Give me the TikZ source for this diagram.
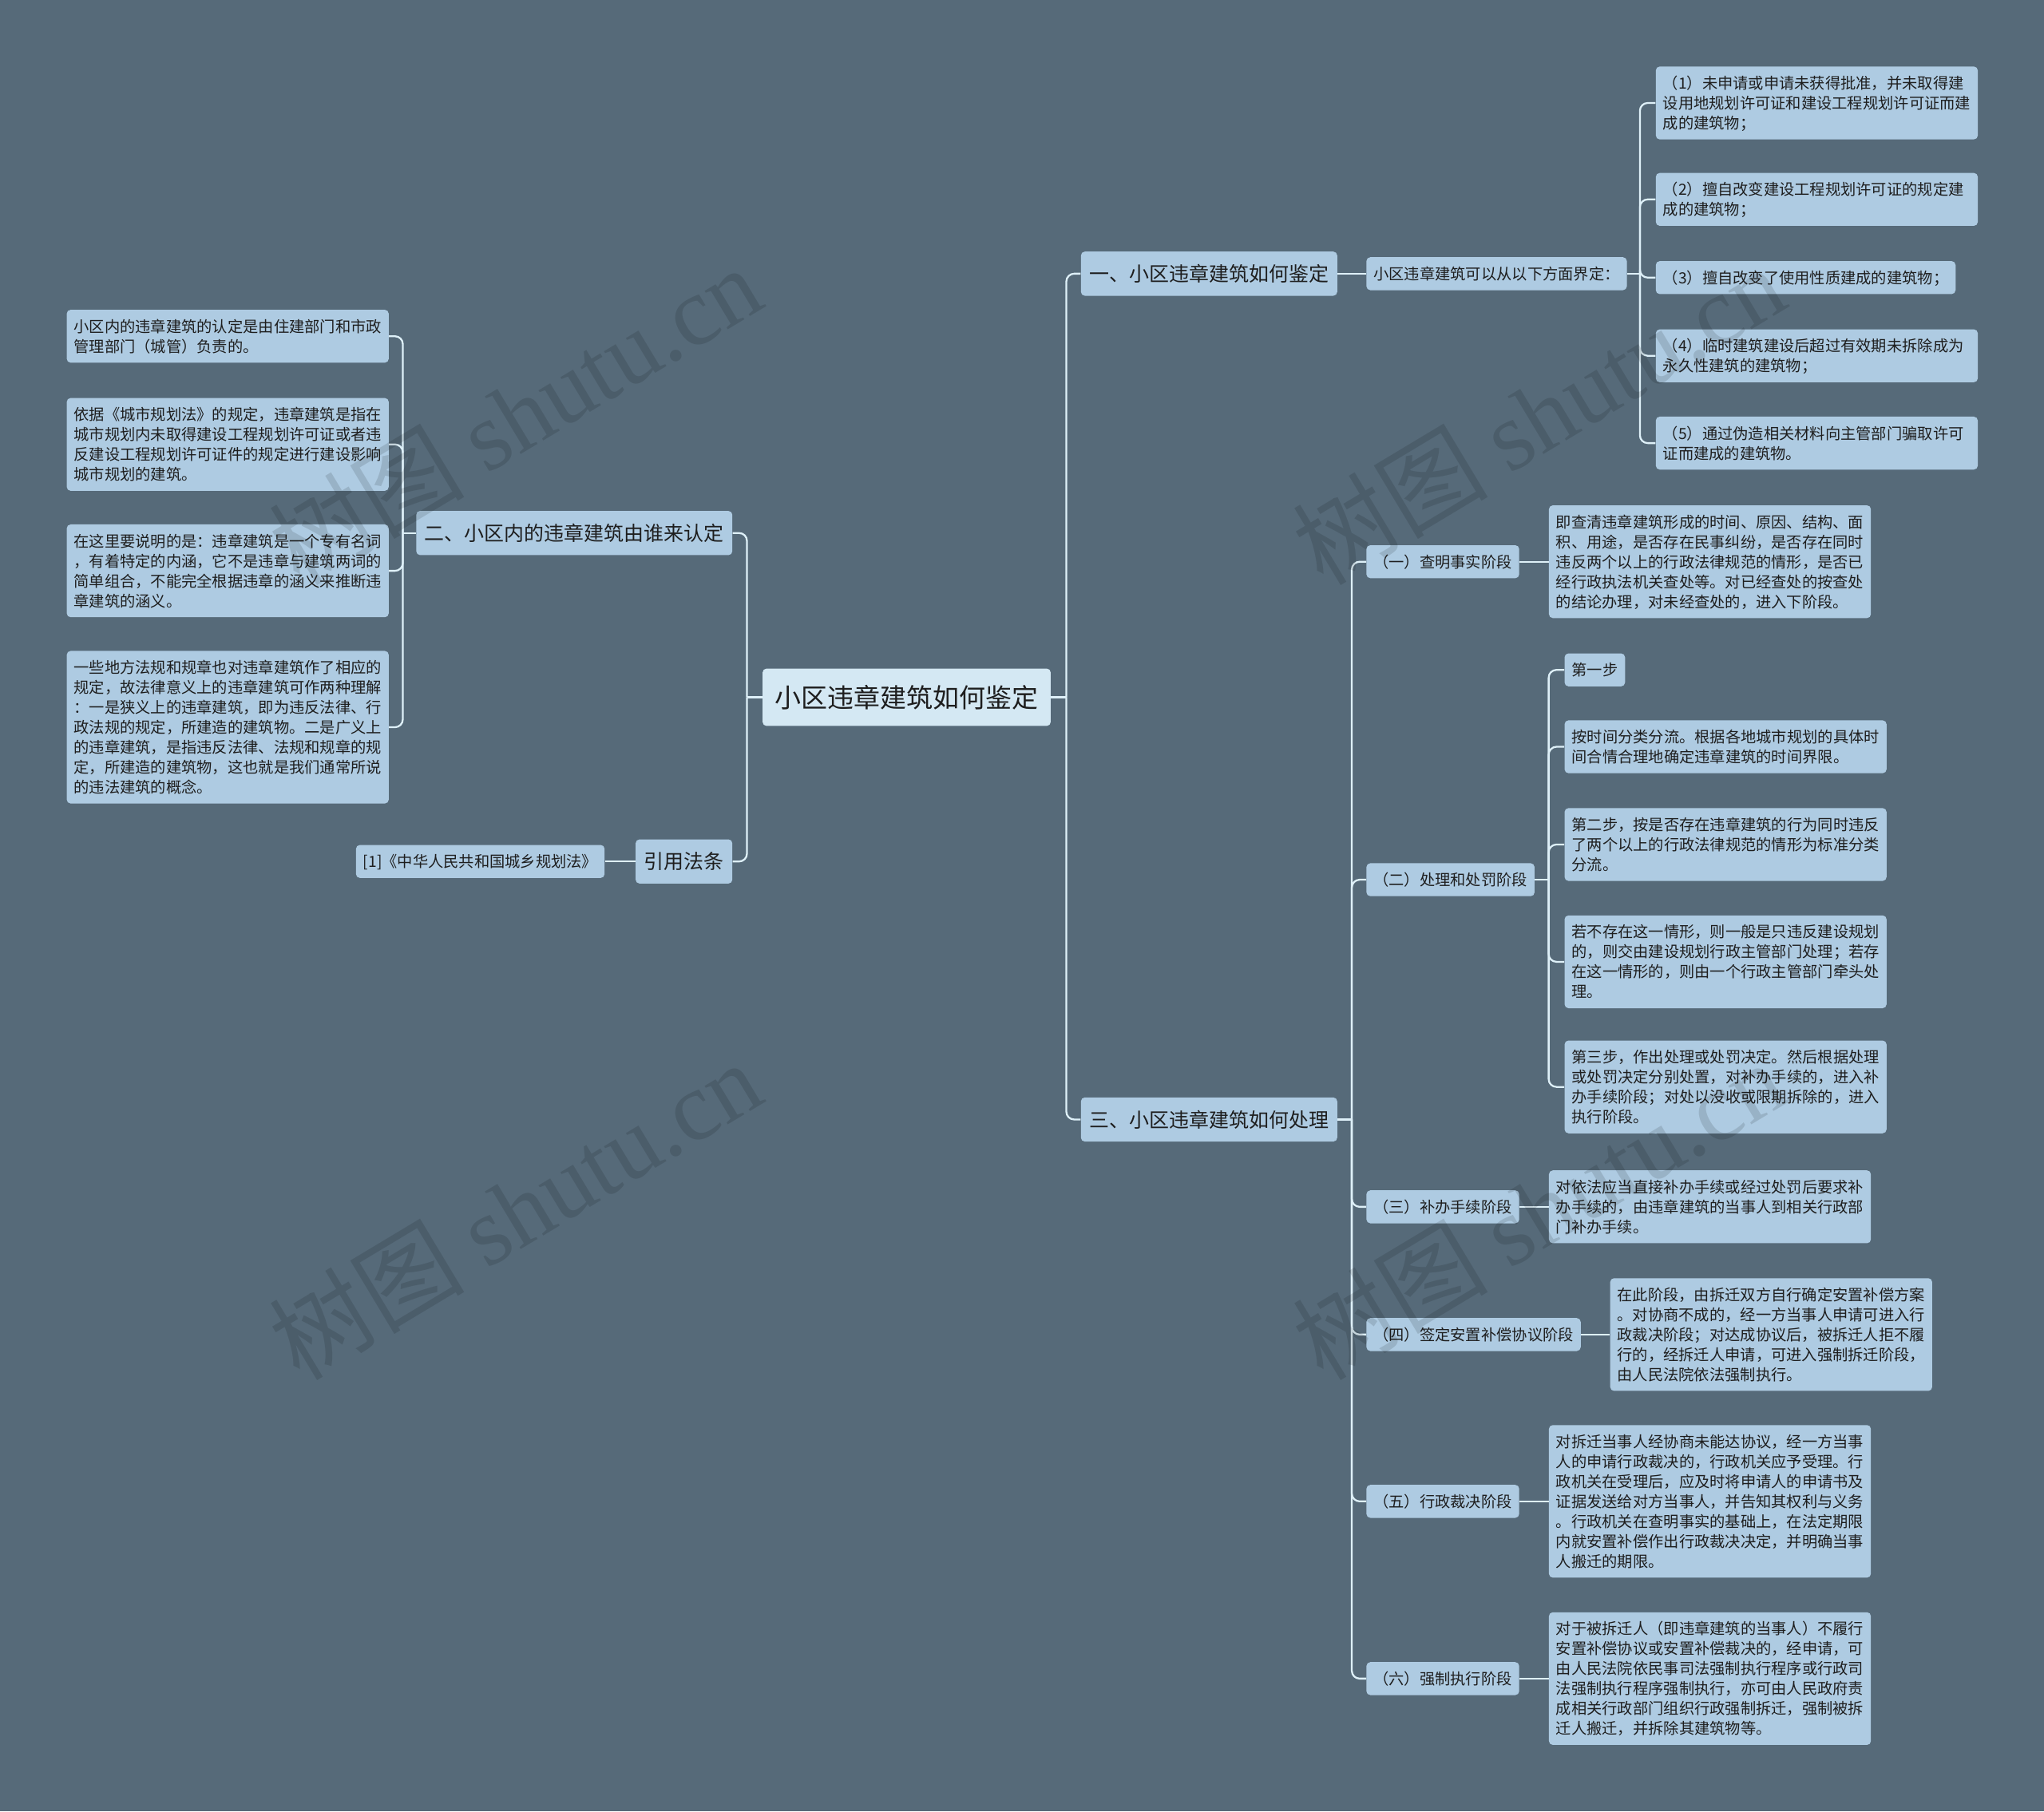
\documentclass[tikz,border=0pt]{standalone}
\usepackage{fontspec}
\setmainfont{Noto Sans CJK SC}
\newfontfamily\wmlatin{Liberation Serif}
\setlength{\parindent}{0pt}
\newcommand\mystrut{\rule[-0.2\baselineskip]{0pt}{\baselineskip}}
\definecolor{bgc}{RGB}{86,106,121}
\definecolor{nodec}{RGB}{174,203,226}
\definecolor{rootc}{RGB}{212,232,243}
\definecolor{linec}{RGB}{222,240,248}
\definecolor{txtc}{RGB}{30,30,30}
\begin{document}
\begin{tikzpicture}[x=1pt,y=-1pt,
  base/.style={fill=nodec, rounded corners=3pt, text=txtc, inner xsep=5.5pt, inner ysep=5pt, align=left, execute at begin node=\mystrut, execute at end node=\mystrut},
  small/.style={base, font=\fontsize{11.8}{15.3}\selectfont},
  leaf/.style={small, text width=236pt},
  lvone/.style={base, inner xsep=6.5pt, inner ysep=7pt, font=\fontsize{15.3}{19.9}\selectfont},
  rootnode/.style={base, fill=rootc, inner xsep=9.5pt, inner ysep=9pt, font=\fontsize{20.2}{26}\selectfont},
  conn/.style={draw=linec, line width=1.4pt, rounded corners=6pt},
  wm/.style={text=black, text opacity=0.12, rotate=31, inner sep=0pt, font=\fontsize{75}{80}\selectfont}
]
\fill[bgc] (0,0) rectangle (1568,1390);
\useasboundingbox (0,0) rectangle (1568,1390);

% root and level one
\node[rootnode] (root) at (695.5,535) {小区违章建筑如何鉴定};
\node[lvone, anchor=west] (n1) at (829,210) {一、小区违章建筑如何鉴定};
\node[lvone, anchor=west] (n3) at (829,859) {三、小区违章建筑如何处理};
\node[lvone, anchor=east] (n2) at (562,409) {二、小区内的违章建筑由谁来认定};
\node[lvone, anchor=east] (n4) at (562,661) {引用法条};

% branch one
\node[small, anchor=west] (d0) at (1048,210) {小区违章建筑可以从以下方面界定：};
\node[leaf, anchor=west] (a1) at (1270,79) {（1）未申请或申请未获得批准，并未取得建\\设用地规划许可证和建设工程规划许可证而建\\成的建筑物；};
\node[leaf, anchor=west] (a2) at (1270,153) {（2）擅自改变建设工程规划许可证的规定建\\成的建筑物；};
\node[small, anchor=west] (a3) at (1270,213) {（3）擅自改变了使用性质建成的建筑物；};
\node[leaf, anchor=west] (a4) at (1270,273) {（4）临时建筑建设后超过有效期未拆除成为\\永久性建筑的建筑物；};
\node[leaf, anchor=west] (a5) at (1270,340) {（5）通过伪造相关材料向主管部门骗取许可\\证而建成的建筑物。};

% branch two
\node[leaf, anchor=west] (b1) at (51,258) {小区内的违章建筑的认定是由住建部门和市政\\管理部门（城管）负责的。};
\node[leaf, anchor=west] (b2) at (51,341) {依据《城市规划法》的规定，违章建筑是指在\\城市规划内未取得建设工程规划许可证或者违\\反建设工程规划许可证件的规定进行建设影响\\城市规划的建筑。};
\node[leaf, anchor=west] (b3) at (51,438) {在这里要说明的是：违章建筑是一个专有名词\\，有着特定的内涵，它不是违章与建筑两词的\\简单组合，不能完全根据违章的涵义来推断违\\章建筑的涵义。};
\node[leaf, anchor=west] (b4) at (51,558) {一些地方法规和规章也对违章建筑作了相应的\\规定，故法律意义上的违章建筑可作两种理解\\：一是狭义上的违章建筑，即为违反法律、行\\政法规的规定，所建造的建筑物。二是广义上\\的违章建筑，是指违反法律、法规和规章的规\\定，所建造的建筑物，这也就是我们通常所说\\的违法建筑的概念。};

% references
\node[small, anchor=east] (r1) at (464,661) {[1]《中华人民共和国城乡规划法》};

% branch three
\node[small, anchor=west] (s1) at (1048,431) {（一）查明事实阶段};
\node[small, anchor=west] (s2) at (1048,675) {（二）处理和处罚阶段};
\node[small, anchor=west] (s3) at (1048,926) {（三）补办手续阶段};
\node[small, anchor=west] (s4) at (1048,1024) {（四）签定安置补偿协议阶段};
\node[small, anchor=west] (s5) at (1048,1152) {（五）行政裁决阶段};
\node[small, anchor=west] (s6) at (1048,1288) {（六）强制执行阶段};

\node[leaf, anchor=west] (t1) at (1188,431) {即查清违章建筑形成的时间、原因、结构、面\\积、用途，是否存在民事纠纷，是否存在同时\\违反两个以上的行政法律规范的情形，是否已\\经行政执法机关查处等。对已经查处的按查处\\的结论办理，对未经查处的，进入下阶段。};
\node[small, anchor=west] (u1) at (1200,514) {第一步};
\node[leaf, anchor=west] (u2) at (1200,573) {按时间分类分流。根据各地城市规划的具体时\\间合情合理地确定违章建筑的时间界限。};
\node[leaf, anchor=west] (u3) at (1200,648) {第二步，按是否存在违章建筑的行为同时违反\\了两个以上的行政法律规范的情形为标准分类\\分流。};
\node[leaf, anchor=west] (u4) at (1200,738) {若不存在这一情形，则一般是只违反建设规划\\的，则交由建设规划行政主管部门处理；若存\\在这一情形的，则由一个行政主管部门牵头处\\理。};
\node[leaf, anchor=west] (u5) at (1200,834) {第三步，作出处理或处罚决定。然后根据处理\\或处罚决定分别处置，对补办手续的，进入补\\办手续阶段；对处以没收或限期拆除的，进入\\执行阶段。};
\node[leaf, anchor=west] (t3) at (1188,926) {对依法应当直接补办手续或经过处罚后要求补\\办手续的，由违章建筑的当事人到相关行政部\\门补办手续。};
\node[leaf, anchor=west] (t4) at (1235,1024) {在此阶段，由拆迁双方自行确定安置补偿方案\\。对协商不成的，经一方当事人申请可进入行\\政裁决阶段；对达成协议后，被拆迁人拒不履\\行的，经拆迁人申请，可进入强制拆迁阶段，\\由人民法院依法强制执行。};
\node[leaf, anchor=west] (t5) at (1188,1152) {对拆迁当事人经协商未能达协议，经一方当事\\人的申请行政裁决的，行政机关应予受理。行\\政机关在受理后，应及时将申请人的申请书及\\证据发送给对方当事人，并告知其权利与义务\\。行政机关在查明事实的基础上，在法定期限\\内就安置补偿作出行政裁决决定，并明确当事\\人搬迁的期限。};
\node[leaf, anchor=west] (t6) at (1188,1288) {对于被拆迁人（即违章建筑的当事人）不履行\\安置补偿协议或安置补偿裁决的，经申请，可\\由人民法院依民事司法强制执行程序或行政司\\法强制执行程序强制执行，亦可由人民政府责\\成相关行政部门组织行政强制拆迁，强制被拆\\迁人搬迁，并拆除其建筑物等。};

% junctions
\coordinate (jR) at (818,535);
\coordinate (jL) at (573,535);
\coordinate (j2) at (309,409);
\coordinate (j1) at (1258,210);
\coordinate (j3) at (1037,859);
\coordinate (js2) at (1188,675);

% connectors
\draw[conn] (root.east) -- (jR);
\draw[conn] (jR) |- (n1.west);
\draw[conn] (jR) |- (n3.west);
\draw[conn] (root.west) -- (jL);
\draw[conn] (jL) |- (n2.east);
\draw[conn] (jL) |- (n4.east);
\draw[conn] (n2.west) -- (j2);
\foreach \c in {b1,b2,b3,b4} \draw[conn] (j2) |- (\c.east);
\draw[conn] (n4.west) -- (r1.east);
\draw[conn] (n1.east) -- (d0.west);
\draw[conn] (d0.east) -- (j1);
\foreach \c in {a1,a2,a3,a4,a5} \draw[conn] (j1) |- (\c.west);
\draw[conn] (n3.east) -- (j3);
\foreach \c in {s1,s2,s3,s4,s5,s6} \draw[conn] (j3) |- (\c.west);
\draw[conn] (s1.east) -- (t1.west);
\draw[conn] (s2.east) -- (js2);
\foreach \c in {u1,u2,u3,u4,u5} \draw[conn] (js2) |- (\c.west);
\draw[conn] (s3.east) -- (t3.west);
\draw[conn] (s4.east) -- (t4.west);
\draw[conn] (s5.east) -- (t5.west);
\draw[conn] (s6.east) -- (t6.west);

% watermarks
\node[wm] (w1) at (395,318) {树图 {\wmlatin shutu.cn}};
\node[wm] (w2) at (395,928) {树图 {\wmlatin shutu.cn}};
\node[wm] (w3) at (1180,318) {树图 {\wmlatin shutu.cn}};
\node[wm] (w4) at (1180,928) {树图 {\wmlatin shutu.cn}};
\end{tikzpicture}
\end{document}
